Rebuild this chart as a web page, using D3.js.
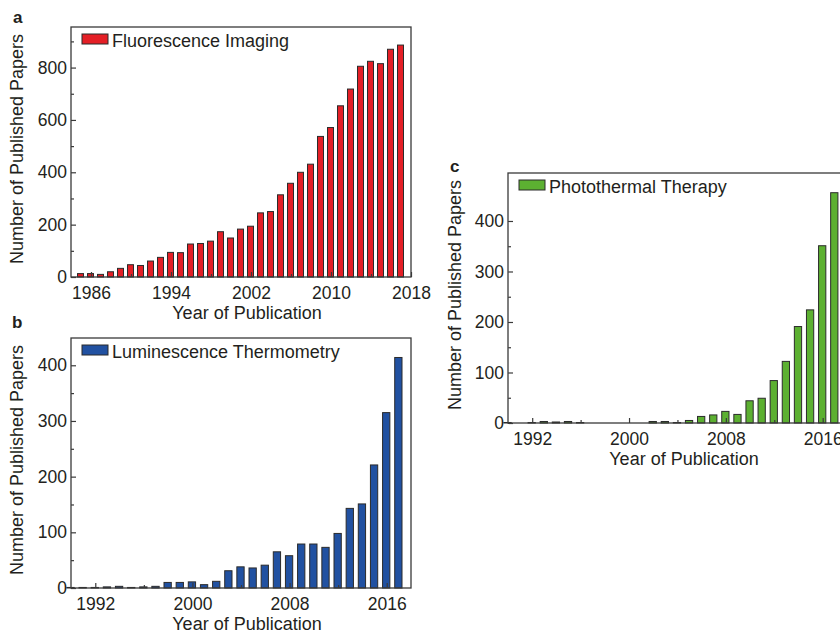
<!DOCTYPE html>
<html>
<head>
<meta charset="utf-8">
<script src="https://cdn.jsdelivr.net/npm/d3@7"></script>
<style>
  html, body { margin: 0; padding: 0; background: #fff; }
  svg { display: block; font-family: "Liberation Sans", Arial, sans-serif; }
</style>
</head>
<body>
<svg id="chart" width="840" height="635"></svg>
<script>
// ---------- data ----------
const yearsA = [1985,1986,1987,1988,1989,1990,1991,1992,1993,1994,1995,1996,1997,1998,1999,2000,
                2001,2002,2003,2004,2005,2006,2007,2008,2009,2010,2011,2012,2013,2014,2015,2016,2017];
const fluorescenceImaging = [13,13,10,20,33,47,44,61,75,94,93,126,128,137,173,149,
                             183,194,245,250,314,358,400,431,537,571,654,718,805,824,815,870,886];

const yearsB = [1990,1991,1992,1993,1994,1995,1996,1997,1998,1999,2000,2001,2002,2003,
                2004,2005,2006,2007,2008,2009,2010,2011,2012,2013,2014,2015,2016,2017];
const luminescenceThermometry = [1,1,1,2,3,1,2,3,10,10,11,6,12,31,
                                 38,36,41,65,58,79,79,73,98,143,151,221,315,414];

const yearsC = [1990,1991,1992,1993,1994,1995,1996,1997,1998,1999,2000,2001,2002,2003,
                2004,2005,2006,2007,2008,2009,2010,2011,2012,2013,2014,2015,2016,2017];
const photothermalTherapy = [1,0,1,3,2,3,1,0,0,0,0,0,3,3,
                             1,5,13,16,23,17,44,49,84,122,191,224,351,456];

const xTicksA = [1986,1994,2002,2010,2018];
const xMinorA = [1990,1998,2006,2014];
const xTicksB = [1992,2000,2008,2016];
const xMinorB = [1996,2004,2012];
const yTicksA = [0,200,400,600,800];
const yMinorA = [100,300,500,700,900];
const yTicksB = [0,100,200,300,400];
const yMinorB = [50,150,250,350];

const panels = [
  { letter: "a", name: "Fluorescence Imaging", years: yearsA, values: fluorescenceImaging,
    color: "#e41f26", xDomain: [1984, 2018], yDomain: [0, 955],
    xTicks: xTicksA, xMinor: xMinorA, yTicks: yTicksA, yMinor: yMinorA,
    left: 71, top: 27, width: 340, height: 250, letterX: 13, letterY: 23, ytitleX: 23 },
  { letter: "b", name: "Luminescence Thermometry", years: yearsB, values: luminescenceThermometry,
    color: "#2151a1", xDomain: [1990, 2018], yDomain: [0, 449],
    xTicks: xTicksB, xMinor: xMinorB, yTicks: yTicksB, yMinor: yMinorB,
    left: 71, top: 338, width: 340, height: 250, letterX: 12, letterY: 328, ytitleX: 23 },
  { letter: "c", name: "Photothermal Therapy", years: yearsC, values: photothermalTherapy,
    color: "#5cb031", xDomain: [1990, 2019], yDomain: [0, 495],
    xTicks: xTicksB, xMinor: xMinorB, yTicks: yTicksB, yMinor: yMinorB,
    left: 508, top: 173, width: 351, height: 250, letterX: 450, letterY: 172, ytitleX: 461 }
];

const svg = d3.select("#chart");
const textColor = "#231f20";
const axisColor = "#3a3a3a";

panels.forEach(p => {
  const x = d3.scaleLinear().domain(p.xDomain).range([0, p.width]);
  const y = d3.scaleLinear().domain(p.yDomain).range([p.height, 0]);
  const step = x(1) - x(0);
  const bw = step * 0.6;

  // panel letter
  svg.append("text").attr("x", p.letterX).attr("y", p.letterY)
    .attr("font-weight", "bold").attr("font-size", 17).attr("fill", textColor).text(p.letter);

  const g = svg.append("g").attr("transform", `translate(${p.left},${p.top})`);

  // bars
  g.selectAll("rect.bar").data(p.years.map((yr, i) => ({ yr, v: p.values[i] })))
    .join("rect").attr("class", "bar")
    .attr("x", d => x(d.yr) - bw / 2 - 0.5)
    .attr("y", d => y(d.v))
    .attr("width", bw)
    .attr("height", d => y(0) - y(d.v))
    .attr("fill", p.color)
    .attr("stroke", "#2b2b2b").attr("stroke-width", 1);

  // x axis (inward ticks)
  const xAxis = g.append("g").attr("transform", `translate(0,${p.height})`)
    .call(d3.axisBottom(x).tickValues(p.xTicks).tickFormat(d3.format("d"))
      .tickSizeInner(-5).tickSizeOuter(0).tickPadding(7));
  g.append("g").attr("transform", `translate(0,${p.height})`)
    .call(d3.axisBottom(x).tickValues(p.xMinor).tickFormat("").tickSizeInner(-3).tickSizeOuter(0))
    .call(s => s.select(".domain").remove());

  // y axis (inward ticks)
  const yAxis = g.append("g")
    .call(d3.axisLeft(y).tickValues(p.yTicks).tickFormat(d3.format("d"))
      .tickSizeInner(-5).tickSizeOuter(0).tickPadding(4));
  g.append("g")
    .call(d3.axisLeft(y).tickValues(p.yMinor).tickFormat("").tickSizeInner(-3).tickSizeOuter(0))
    .call(s => s.select(".domain").remove());

  g.selectAll(".tick line").attr("stroke", axisColor).attr("stroke-width", 1.2);
  g.selectAll(".domain").attr("stroke", "none");
  g.selectAll(".tick text").attr("font-size", 17.5).attr("fill", textColor)
    .attr("font-family", "'Liberation Sans', Arial, sans-serif");
  xAxis.selectAll(".tick text").attr("dy", "0.85em");

  // frame
  g.append("rect").attr("x", 0).attr("y", 0).attr("width", p.width).attr("height", p.height)
    .attr("fill", "none").attr("stroke", axisColor).attr("stroke-width", 1.3);

  // legend
  g.append("rect").attr("x", 11).attr("y", 7).attr("width", 26).attr("height", 10)
    .attr("fill", p.color).attr("stroke", "#2b2b2b").attr("stroke-width", 1);
  g.append("text").attr("x", 41).attr("y", 19.5).attr("font-size", 18)
    .attr("fill", textColor).text(p.name);

  // axis titles
  g.append("text").attr("x", Math.min(p.width, 340) / 2 + 6).attr("y", p.height + 42)
    .attr("text-anchor", "middle").attr("font-size", 18).attr("fill", textColor)
    .text("Year of Publication");
  svg.append("text")
    .attr("transform", `translate(${p.ytitleX},${p.top + p.height / 2 - 3}) rotate(-90)`)
    .attr("text-anchor", "middle").attr("font-size", 18).attr("fill", textColor)
    .text("Number of Published Papers");
});
</script>
</body>
</html>
